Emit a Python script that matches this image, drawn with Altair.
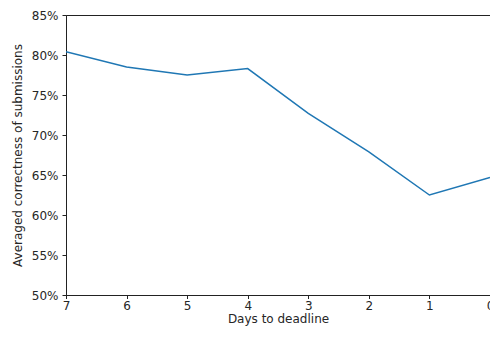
import altair as alt
import pandas as pd

days = [7, 6, 5, 4, 3, 2, 1, 0]
correctness = [0.804, 0.785, 0.775, 0.783, 0.727, 0.679, 0.625, 0.647]
y_ticks = [0.50, 0.55, 0.60, 0.65, 0.70, 0.75, 0.80, 0.85]
x_ticks = [7, 6, 5, 4, 3, 2, 1, 0]

df = pd.DataFrame({"days": days, "correctness": correctness})

font = "DejaVu Sans"

chart = alt.Chart(df).mark_line(color="#1f77b4", strokeWidth=1.5, clip=True).encode(
    x=alt.X("days:Q",
            scale=alt.Scale(domain=[0, 7], reverse=True, nice=False, zero=False),
            axis=alt.Axis(values=x_ticks, format="d", title="Days to deadline",
                          grid=False, tickSize=3.5, labelPadding=1.5, titlePadding=2)),
    y=alt.Y("correctness:Q",
            scale=alt.Scale(domain=[0.5, 0.85], nice=False, zero=False),
            axis=alt.Axis(values=y_ticks, format=".0%", title="Averaged correctness of submissions",
                          grid=False, tickSize=4, labelPadding=4, titlePadding=7)),
).properties(
    width=424, height=280,
    autosize=alt.AutoSizeParams(type="none"),
    padding={"left": 58, "top": 7, "right": 0, "bottom": 34},
).configure_view(
    stroke="#222222", strokeWidth=1
).configure_axis(
    domainColor="#222222", tickColor="#222222",
    labelFont=font, titleFont=font, labelFontSize=12, titleFontSize=12,
    labelColor="#262626", titleColor="#262626",
    titleFontWeight="normal", labelFlush=False,
)

chart.save("out.html", embed_options={"renderer": "svg", "actions": False})
